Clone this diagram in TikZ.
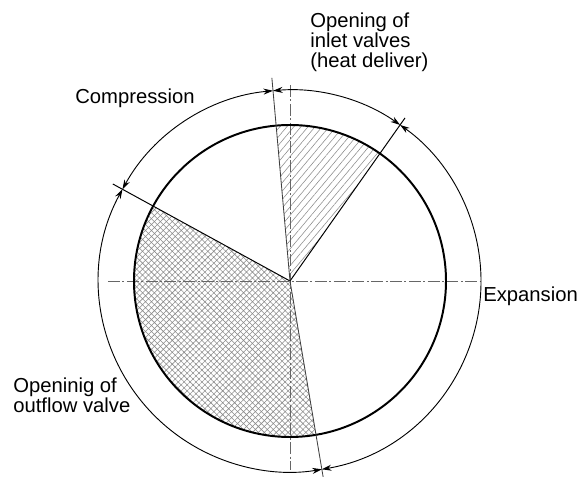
\documentclass[tikz,border=0pt]{standalone}
\usepackage{fontspec}
\setmainfont{Liberation Sans}
\usetikzlibrary{arrows.meta,patterns.meta,calc}
\newcommand{\lblfont}{\fontsize{14.4pt}{14.2pt}\selectfont}

\begin{document}
\begin{tikzpicture}[font=\lblfont,>={Stealth[length=2.4mm,width=1.5mm]}]
  \def\ri{39mm}
  \def\ro{47.75mm}
  \def\aIn{95.1}
  \def\aEx{54.8}
  \def\aCo{151.3}
  \def\aOut{279.6}
  \useasboundingbox (-72.5mm,-49mm) rectangle (72mm,70.25mm);
  \coordinate (O) at (0,0);
  \coordinate (tIn) at (\aIn:51mm);
  \coordinate (tEx) at (\aEx:49.9mm);
  \coordinate (tCo) at (\aCo:50.5mm);
  \coordinate (tOut) at (\aOut:51mm);
  \fill[pattern={Lines[angle=50,distance=1.35mm,line width=0.4pt]},pattern color=gray!90]
    (O) -- (\aEx:\ri) arc[start angle=\aEx,end angle=\aIn,radius=\ri] -- cycle;
  \fill[pattern={Hatch[angle=45,distance=1.05mm,line width=0.4pt]},pattern color=gray!90]
    (O) -- (\aCo:\ri) arc[start angle=\aCo,end angle=\aOut,radius=\ri] -- cycle;
  \draw[gray!80!black,line width=0.7pt,dash pattern=on 3mm off 0.6mm on 0.5mm off 0.6mm] (-45.5mm,0) -- (47.5mm,0);
  \draw[gray!80!black,line width=0.7pt,dash pattern=on 3mm off 0.6mm on 0.5mm off 0.6mm] (0,49mm) -- (0,-47.25mm);
  \draw[line width=1.4pt] (O) circle[radius=\ri];
  \draw[line width=0.7pt] (O) -- (tEx) (O) -- (tCo);
  \draw[gray!50!black,line width=0.6pt] (O) -- (tIn) (O) -- (tOut);
  \foreach \a/\b in {\aIn/\aEx,\aCo/\aIn,\aCo/\aOut,\aOut/414.8}
    \draw[<->,line width=0.65pt] (\a:\ro) arc[start angle=\a,end angle=\b,radius=\ro];
  \node[anchor=north west,inner sep=0,align=left] (inlet) at (5mm,67.2mm) {Opening of\\inlet valves\\(heat deliver)};
  \node[anchor=base west,inner sep=0] (comp) at (-53.75mm,44.25mm) {Compression};
  \node[anchor=base west,inner sep=0] (expa) at (48.25mm,-5.25mm) {Expansion};
  \node[anchor=north west,inner sep=0,align=left] (outf) at (-69.25mm,-24.25mm) {Openinig of\\outflow valve};
\end{tikzpicture}
\end{document}
